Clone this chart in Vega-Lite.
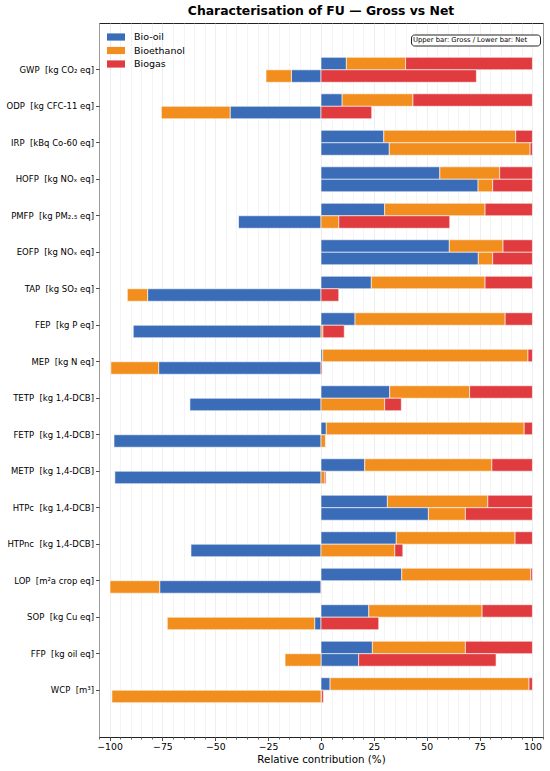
{
  "$schema": "https://vega.github.io/schema/vega-lite/v6.json",
  "width": 444,
  "height": 714,
  "autosize": {"type": "none"},
  "padding": {"left": 99, "top": 23, "right": 7, "bottom": 34},
  "background": "white",
  "title": {
    "text": "Characterisation of FU — Gross vs Net",
    "font": "DejaVu Sans",
    "fontSize": 12.4,
    "fontWeight": "bold",
    "color": "#000",
    "anchor": "middle",
    "offset": 6
  },
  "datasets": {
    "lca": [
      {"cat": "GWP\u00a0 [kg CO₂ eq]", "bar": "Gross", "pathway": "Bio-oil", "value": 12},
      {"cat": "GWP\u00a0 [kg CO₂ eq]", "bar": "Gross", "pathway": "Bioethanol", "value": 28},
      {"cat": "GWP\u00a0 [kg CO₂ eq]", "bar": "Gross", "pathway": "Biogas", "value": 60},
      {"cat": "GWP\u00a0 [kg CO₂ eq]", "bar": "Net", "pathway": "Bio-oil", "value": -14},
      {"cat": "GWP\u00a0 [kg CO₂ eq]", "bar": "Net", "pathway": "Bioethanol", "value": -12},
      {"cat": "GWP\u00a0 [kg CO₂ eq]", "bar": "Net", "pathway": "Biogas", "value": 73.5},
      {"cat": "ODP\u00a0 [kg CFC-11 eq]", "bar": "Gross", "pathway": "Bio-oil", "value": 10},
      {"cat": "ODP\u00a0 [kg CFC-11 eq]", "bar": "Gross", "pathway": "Bioethanol", "value": 33.5},
      {"cat": "ODP\u00a0 [kg CFC-11 eq]", "bar": "Gross", "pathway": "Biogas", "value": 56.5},
      {"cat": "ODP\u00a0 [kg CFC-11 eq]", "bar": "Net", "pathway": "Bio-oil", "value": -43},
      {"cat": "ODP\u00a0 [kg CFC-11 eq]", "bar": "Net", "pathway": "Bioethanol", "value": -32.5},
      {"cat": "ODP\u00a0 [kg CFC-11 eq]", "bar": "Net", "pathway": "Biogas", "value": 24},
      {"cat": "IRP\u00a0 [kBq Co-60 eq]", "bar": "Gross", "pathway": "Bio-oil", "value": 29.7},
      {"cat": "IRP\u00a0 [kBq Co-60 eq]", "bar": "Gross", "pathway": "Bioethanol", "value": 62.4},
      {"cat": "IRP\u00a0 [kBq Co-60 eq]", "bar": "Gross", "pathway": "Biogas", "value": 7.9},
      {"cat": "IRP\u00a0 [kBq Co-60 eq]", "bar": "Net", "pathway": "Bio-oil", "value": 32.3},
      {"cat": "IRP\u00a0 [kBq Co-60 eq]", "bar": "Net", "pathway": "Bioethanol", "value": 66.6},
      {"cat": "IRP\u00a0 [kBq Co-60 eq]", "bar": "Net", "pathway": "Biogas", "value": 1.1},
      {"cat": "HOFP\u00a0 [kg NOₓ eq]", "bar": "Gross", "pathway": "Bio-oil", "value": 56.2},
      {"cat": "HOFP\u00a0 [kg NOₓ eq]", "bar": "Gross", "pathway": "Bioethanol", "value": 28.3},
      {"cat": "HOFP\u00a0 [kg NOₓ eq]", "bar": "Gross", "pathway": "Biogas", "value": 15.5},
      {"cat": "HOFP\u00a0 [kg NOₓ eq]", "bar": "Net", "pathway": "Bio-oil", "value": 74.3},
      {"cat": "HOFP\u00a0 [kg NOₓ eq]", "bar": "Net", "pathway": "Bioethanol", "value": 6.9},
      {"cat": "HOFP\u00a0 [kg NOₓ eq]", "bar": "Net", "pathway": "Biogas", "value": 18.8},
      {"cat": "PMFP\u00a0 [kg PM₂.₅ eq]", "bar": "Gross", "pathway": "Bio-oil", "value": 30.1},
      {"cat": "PMFP\u00a0 [kg PM₂.₅ eq]", "bar": "Gross", "pathway": "Bioethanol", "value": 47.5},
      {"cat": "PMFP\u00a0 [kg PM₂.₅ eq]", "bar": "Gross", "pathway": "Biogas", "value": 22.4},
      {"cat": "PMFP\u00a0 [kg PM₂.₅ eq]", "bar": "Net", "pathway": "Bio-oil", "value": -39},
      {"cat": "PMFP\u00a0 [kg PM₂.₅ eq]", "bar": "Net", "pathway": "Bioethanol", "value": 8.4},
      {"cat": "PMFP\u00a0 [kg PM₂.₅ eq]", "bar": "Net", "pathway": "Biogas", "value": 52.5},
      {"cat": "EOFP\u00a0 [kg NOₓ eq]", "bar": "Gross", "pathway": "Bio-oil", "value": 60.7},
      {"cat": "EOFP\u00a0 [kg NOₓ eq]", "bar": "Gross", "pathway": "Bioethanol", "value": 25.4},
      {"cat": "EOFP\u00a0 [kg NOₓ eq]", "bar": "Gross", "pathway": "Biogas", "value": 13.9},
      {"cat": "EOFP\u00a0 [kg NOₓ eq]", "bar": "Net", "pathway": "Bio-oil", "value": 74.4},
      {"cat": "EOFP\u00a0 [kg NOₓ eq]", "bar": "Net", "pathway": "Bioethanol", "value": 6.8},
      {"cat": "EOFP\u00a0 [kg NOₓ eq]", "bar": "Net", "pathway": "Biogas", "value": 18.8},
      {"cat": "TAP\u00a0 [kg SO₂ eq]", "bar": "Gross", "pathway": "Bio-oil", "value": 23.8},
      {"cat": "TAP\u00a0 [kg SO₂ eq]", "bar": "Gross", "pathway": "Bioethanol", "value": 53.8},
      {"cat": "TAP\u00a0 [kg SO₂ eq]", "bar": "Gross", "pathway": "Biogas", "value": 22.4},
      {"cat": "TAP\u00a0 [kg SO₂ eq]", "bar": "Net", "pathway": "Bio-oil", "value": -82},
      {"cat": "TAP\u00a0 [kg SO₂ eq]", "bar": "Net", "pathway": "Bioethanol", "value": -9.6},
      {"cat": "TAP\u00a0 [kg SO₂ eq]", "bar": "Net", "pathway": "Biogas", "value": 8.4},
      {"cat": "FEP\u00a0 [kg P eq]", "bar": "Gross", "pathway": "Bio-oil", "value": 16.1},
      {"cat": "FEP\u00a0 [kg P eq]", "bar": "Gross", "pathway": "Bioethanol", "value": 71},
      {"cat": "FEP\u00a0 [kg P eq]", "bar": "Gross", "pathway": "Biogas", "value": 12.9},
      {"cat": "FEP\u00a0 [kg P eq]", "bar": "Net", "pathway": "Bio-oil", "value": -88.8},
      {"cat": "FEP\u00a0 [kg P eq]", "bar": "Net", "pathway": "Bioethanol", "value": 0.9},
      {"cat": "FEP\u00a0 [kg P eq]", "bar": "Net", "pathway": "Biogas", "value": 10.1},
      {"cat": "MEP\u00a0 [kg N eq]", "bar": "Gross", "pathway": "Bio-oil", "value": 0.8},
      {"cat": "MEP\u00a0 [kg N eq]", "bar": "Gross", "pathway": "Bioethanol", "value": 97.1},
      {"cat": "MEP\u00a0 [kg N eq]", "bar": "Gross", "pathway": "Biogas", "value": 2.1},
      {"cat": "MEP\u00a0 [kg N eq]", "bar": "Net", "pathway": "Bio-oil", "value": -76.8},
      {"cat": "MEP\u00a0 [kg N eq]", "bar": "Net", "pathway": "Bioethanol", "value": -22.6},
      {"cat": "MEP\u00a0 [kg N eq]", "bar": "Net", "pathway": "Biogas", "value": 0.5},
      {"cat": "TETP\u00a0 [kg 1,4-DCB]", "bar": "Gross", "pathway": "Bio-oil", "value": 32.5},
      {"cat": "TETP\u00a0 [kg 1,4-DCB]", "bar": "Gross", "pathway": "Bioethanol", "value": 37.8},
      {"cat": "TETP\u00a0 [kg 1,4-DCB]", "bar": "Gross", "pathway": "Biogas", "value": 29.7},
      {"cat": "TETP\u00a0 [kg 1,4-DCB]", "bar": "Net", "pathway": "Bio-oil", "value": -62},
      {"cat": "TETP\u00a0 [kg 1,4-DCB]", "bar": "Net", "pathway": "Bioethanol", "value": 30.1},
      {"cat": "TETP\u00a0 [kg 1,4-DCB]", "bar": "Net", "pathway": "Biogas", "value": 7.9},
      {"cat": "FETP\u00a0 [kg 1,4-DCB]", "bar": "Gross", "pathway": "Bio-oil", "value": 2.5},
      {"cat": "FETP\u00a0 [kg 1,4-DCB]", "bar": "Gross", "pathway": "Bioethanol", "value": 93.6},
      {"cat": "FETP\u00a0 [kg 1,4-DCB]", "bar": "Gross", "pathway": "Biogas", "value": 3.9},
      {"cat": "FETP\u00a0 [kg 1,4-DCB]", "bar": "Net", "pathway": "Bio-oil", "value": -97.9},
      {"cat": "FETP\u00a0 [kg 1,4-DCB]", "bar": "Net", "pathway": "Bioethanol", "value": 2.1},
      {"cat": "FETP\u00a0 [kg 1,4-DCB]", "bar": "Net", "pathway": "Biogas", "value": 0.2},
      {"cat": "METP\u00a0 [kg 1,4-DCB]", "bar": "Gross", "pathway": "Bio-oil", "value": 20.7},
      {"cat": "METP\u00a0 [kg 1,4-DCB]", "bar": "Gross", "pathway": "Bioethanol", "value": 60.1},
      {"cat": "METP\u00a0 [kg 1,4-DCB]", "bar": "Gross", "pathway": "Biogas", "value": 19.2},
      {"cat": "METP\u00a0 [kg 1,4-DCB]", "bar": "Net", "pathway": "Bio-oil", "value": -97.5},
      {"cat": "METP\u00a0 [kg 1,4-DCB]", "bar": "Net", "pathway": "Bioethanol", "value": 1.9},
      {"cat": "METP\u00a0 [kg 1,4-DCB]", "bar": "Net", "pathway": "Biogas", "value": 0.5},
      {"cat": "HTPc\u00a0 [kg 1,4-DCB]", "bar": "Gross", "pathway": "Bio-oil", "value": 31.4},
      {"cat": "HTPc\u00a0 [kg 1,4-DCB]", "bar": "Gross", "pathway": "Bioethanol", "value": 47.5},
      {"cat": "HTPc\u00a0 [kg 1,4-DCB]", "bar": "Gross", "pathway": "Biogas", "value": 21.1},
      {"cat": "HTPc\u00a0 [kg 1,4-DCB]", "bar": "Net", "pathway": "Bio-oil", "value": 50.8},
      {"cat": "HTPc\u00a0 [kg 1,4-DCB]", "bar": "Net", "pathway": "Bioethanol", "value": 17.5},
      {"cat": "HTPc\u00a0 [kg 1,4-DCB]", "bar": "Net", "pathway": "Biogas", "value": 31.7},
      {"cat": "HTPnc\u00a0 [kg 1,4-DCB]", "bar": "Gross", "pathway": "Bio-oil", "value": 35.6},
      {"cat": "HTPnc\u00a0 [kg 1,4-DCB]", "bar": "Gross", "pathway": "Bioethanol", "value": 56.2},
      {"cat": "HTPnc\u00a0 [kg 1,4-DCB]", "bar": "Gross", "pathway": "Biogas", "value": 8.2},
      {"cat": "HTPnc\u00a0 [kg 1,4-DCB]", "bar": "Net", "pathway": "Bio-oil", "value": -61.5},
      {"cat": "HTPnc\u00a0 [kg 1,4-DCB]", "bar": "Net", "pathway": "Bioethanol", "value": 34.9},
      {"cat": "HTPnc\u00a0 [kg 1,4-DCB]", "bar": "Net", "pathway": "Biogas", "value": 3.8},
      {"cat": "LOP\u00a0 [m²a crop eq]", "bar": "Gross", "pathway": "Bio-oil", "value": 38.2},
      {"cat": "LOP\u00a0 [m²a crop eq]", "bar": "Gross", "pathway": "Bioethanol", "value": 61},
      {"cat": "LOP\u00a0 [m²a crop eq]", "bar": "Gross", "pathway": "Biogas", "value": 0.8},
      {"cat": "LOP\u00a0 [m²a crop eq]", "bar": "Net", "pathway": "Bio-oil", "value": -76.3},
      {"cat": "LOP\u00a0 [m²a crop eq]", "bar": "Net", "pathway": "Bioethanol", "value": -23.5},
      {"cat": "LOP\u00a0 [m²a crop eq]", "bar": "Net", "pathway": "Biogas", "value": 0.2},
      {"cat": "SOP\u00a0 [kg Cu eq]", "bar": "Gross", "pathway": "Bio-oil", "value": 22.6},
      {"cat": "SOP\u00a0 [kg Cu eq]", "bar": "Gross", "pathway": "Bioethanol", "value": 53.6},
      {"cat": "SOP\u00a0 [kg Cu eq]", "bar": "Gross", "pathway": "Biogas", "value": 23.8},
      {"cat": "SOP\u00a0 [kg Cu eq]", "bar": "Net", "pathway": "Bio-oil", "value": -3},
      {"cat": "SOP\u00a0 [kg Cu eq]", "bar": "Net", "pathway": "Bioethanol", "value": -69.7},
      {"cat": "SOP\u00a0 [kg Cu eq]", "bar": "Net", "pathway": "Biogas", "value": 27.3},
      {"cat": "FFP\u00a0 [kg oil eq]", "bar": "Gross", "pathway": "Bio-oil", "value": 24.3},
      {"cat": "FFP\u00a0 [kg oil eq]", "bar": "Gross", "pathway": "Bioethanol", "value": 44},
      {"cat": "FFP\u00a0 [kg oil eq]", "bar": "Gross", "pathway": "Biogas", "value": 31.7},
      {"cat": "FFP\u00a0 [kg oil eq]", "bar": "Net", "pathway": "Bio-oil", "value": 17.8},
      {"cat": "FFP\u00a0 [kg oil eq]", "bar": "Net", "pathway": "Bioethanol", "value": -17},
      {"cat": "FFP\u00a0 [kg oil eq]", "bar": "Net", "pathway": "Biogas", "value": 65},
      {"cat": "WCP\u00a0 [m³]", "bar": "Gross", "pathway": "Bio-oil", "value": 4.3},
      {"cat": "WCP\u00a0 [m³]", "bar": "Gross", "pathway": "Bioethanol", "value": 94.1},
      {"cat": "WCP\u00a0 [m³]", "bar": "Gross", "pathway": "Biogas", "value": 1.6},
      {"cat": "WCP\u00a0 [m³]", "bar": "Net", "pathway": "Bio-oil", "value": 0.2},
      {"cat": "WCP\u00a0 [m³]", "bar": "Net", "pathway": "Bioethanol", "value": -98.9},
      {"cat": "WCP\u00a0 [m³]", "bar": "Net", "pathway": "Biogas", "value": 0.9}
    ]
  },
  "layer": [
    {
      "mark": {"type": "rule", "color": "#444", "strokeWidth": 0.9},
      "encoding": {
        "x": {
          "datum": 0,
          "type": "quantitative",
          "scale": {"domain": [-105, 105], "nice": false, "zero": false},
          "axis": {
            "orient": "bottom",
            "title": null,
            "values": [-105, -95, -90, -85, -80, -70, -65, -60, -55, -45, -40, -35, -30, -20, -15, -10, -5, 5, 10, 15, 20, 30, 35, 40, 45, 55, 60, 65, 70, 80, 85, 90, 95, 105],
            "labels": false,
            "domain": false,
            "tickSize": 2,
            "tickColor": "#222",
            "tickWidth": 0.7,
            "grid": true,
            "gridColor": "#ececec",
            "gridWidth": 0.6
          }
        }
      }
    },
    {
      "data": {"name": "lca"},
      "mark": {"type": "bar", "stroke": "white", "strokeWidth": 0.6},
      "encoding": {
        "y": {
          "field": "cat",
          "type": "nominal",
          "sort": null,
          "scale": {"paddingInner": 0.315, "paddingOuter": 0.94},
          "axis": {
            "title": null,
            "labelFont": "DejaVu Sans",
            "labelFontSize": 8.5,
            "labelColor": "#000",
            "labelPadding": 2,
            "tickSize": 3.5,
            "tickColor": "#222",
            "tickWidth": 0.8,
            "domain": false,
            "grid": false
          }
        },
        "yOffset": {"field": "bar", "type": "nominal", "sort": ["Gross", "Net"]},
        "x": {
          "field": "value",
          "type": "quantitative",
          "stack": "zero",
          "scale": {"domain": [-105, 105], "nice": false, "zero": false},
          "axis": {
            "orient": "bottom",
            "title": "Relative contribution (%)",
            "titleFont": "DejaVu Sans",
            "titleFontSize": 10.3,
            "titleFontWeight": "normal",
            "titleColor": "#000",
            "titlePadding": 3,
            "values": [-100, -75, -50, -25, 0, 25, 50, 75, 100],
            "labelFont": "DejaVu Sans",
            "labelFontSize": 9.3,
            "labelColor": "#000",
            "labelPadding": 2,
            "labelFlush": false,
            "tickSize": 3.5,
            "tickColor": "#222",
            "tickWidth": 0.8,
            "domain": false,
            "grid": true,
            "gridColor": "#e6e6e6",
            "gridWidth": 0.7
          }
        },
        "color": {
          "field": "pathway",
          "type": "nominal",
          "scale": {"domain": ["Bio-oil", "Bioethanol", "Biogas"], "range": ["#3a6cb8", "#f28e1e", "#e03c3f"]},
          "legend": {
            "title": null,
            "orient": "top-left",
            "offset": 8,
            "padding": 0,
            "symbolType": "M-1,-0.6H2V0.6H-1Z",
            "symbolSize": 144,
            "symbolStrokeWidth": 0,
            "labelFont": "DejaVu Sans",
            "labelFontSize": 9.5,
            "labelColor": "#000",
            "labelOffset": 15,
            "rowPadding": 2.5
          }
        },
        "order": {"field": "pathway", "type": "nominal"}
      }
    },
    {
      "data": {"values": [{"note": "bars"}]},
      "mark": {"type": "point", "opacity": 0},
      "encoding": {
        "shape": {
          "field": "note",
          "type": "nominal",
          "scale": {"range": ["circle"]},
          "legend": {
            "title": "Upper bar: Gross / Lower bar: Net",
            "titleOrient": "left",
            "orient": "none",
            "legendX": 312,
            "legendY": 11.5,
            "padding": 2,
            "titleFont": "DejaVu Sans",
            "titleFontSize": 6.8,
            "titleFontWeight": "normal",
            "titleColor": "#000",
            "titlePadding": 0,
            "labelExpr": "''",
            "labelFontSize": 0,
            "labelOffset": 0,
            "symbolSize": 0,
            "symbolOpacity": 0,
            "symbolStrokeWidth": 0,
            "rowPadding": 0,
            "strokeColor": "#222",
            "fillColor": "white",
            "cornerRadius": 3
          }
        }
      }
    }
  ],
  "resolve": {"axis": {"x": "independent"}},
  "config": {
    "font": "DejaVu Sans",
    "view": {"stroke": "#222", "strokeWidth": 1}
  }
}
